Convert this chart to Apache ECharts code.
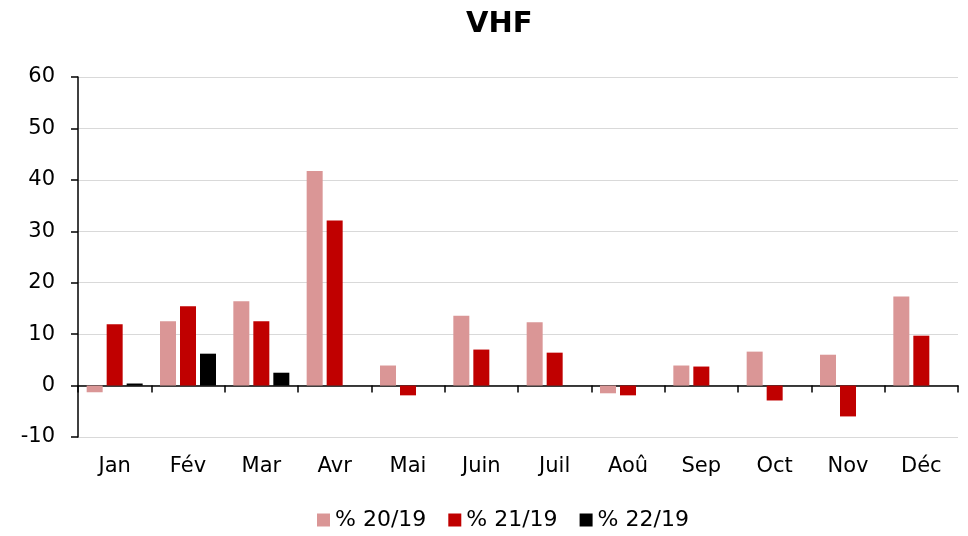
<!DOCTYPE html>
<html>
<head>
<meta charset="utf-8">
<script src="https://cdn.jsdelivr.net/npm/echarts@6/dist/echarts.min.js"></script>
<style>
  html, body { margin: 0; padding: 0; background: #fff; }
  #chart { width: 968px; height: 536px; }
</style>
</head>
<body>
<div id="chart"></div>
<script>
const months = ["Jan", "Fév", "Mar", "Avr", "Mai", "Juin", "Juil", "Aoû", "Sep", "Oct", "Nov", "Déc"];
const pct2019 = [-1.3, 12.5, 16.4, 41.7, 3.9, 13.6, 12.3, -1.5, 3.9, 6.6, 6.0, 17.3];
const pct2119 = [11.9, 15.4, 12.5, 32.1, -1.9, 7.0, 6.4, -1.9, 3.7, -2.9, -6.0, 9.7];
const pct2219 = [0.4, 6.2, 2.5, null, null, null, null, null, null, null, null, null];

const seriesNames = ["% 20/19", "% 21/19", "% 22/19"];
const seriesColors = ["#da9696", "#c00000", "#000000"];

const font = "'DejaVu Sans', sans-serif";

const chart = echarts.init(document.getElementById("chart"));

const makeBar = (idx, data) => ({
  name: seriesNames[idx],
  type: "bar",
  data: data,
  barWidth: 16,
  barGap: "25%",
  itemStyle: { color: seriesColors[idx] },
});

chart.setOption({
  animation: false,
  title: {
    text: "VHF",
    left: 461,
    top: 5,
    textStyle: { fontFamily: font, fontSize: 29, fontWeight: "bold", color: "#000" },
  },
  legend: {
    bottom: 0,
    left: 312,
    itemWidth: 13,
    itemHeight: 13,
    itemGap: 22,
    icon: "rect",
    textStyle: { fontFamily: font, fontSize: 22, color: "#000" },
    data: seriesNames,
  },
  grid: { left: 78, right: 10, top: 77, bottom: 99 },
  xAxis: [
    {
      type: "category",
      data: months,
      axisLine: { onZero: true, lineStyle: { color: "#000", width: 1.5 } },
      axisTick: { show: true, length: 7, lineStyle: { color: "#000", width: 1.5 } },
      axisLabel: { show: false },
    },
    {
      type: "category",
      data: months,
      position: "bottom",
      axisLine: { show: false, onZero: false },
      axisTick: { show: false },
      axisLabel: { margin: 19, fontFamily: font, fontSize: 21, color: "#000" },
    },
  ],
  yAxis: {
    type: "value",
    min: -10,
    max: 60,
    interval: 10,
    axisLine: { show: true, lineStyle: { color: "#000", width: 1.5 } },
    axisTick: { show: true, length: 7, lineStyle: { color: "#000", width: 1.5 } },
    axisLabel: { margin: 23, fontFamily: font, fontSize: 21, color: "#000" },
    splitLine: { lineStyle: { color: "#d9d9d9", width: 1 } },
  },
  series: [makeBar(0, pct2019), makeBar(1, pct2119), makeBar(2, pct2219)],
});
</script>
</body>
</html>
